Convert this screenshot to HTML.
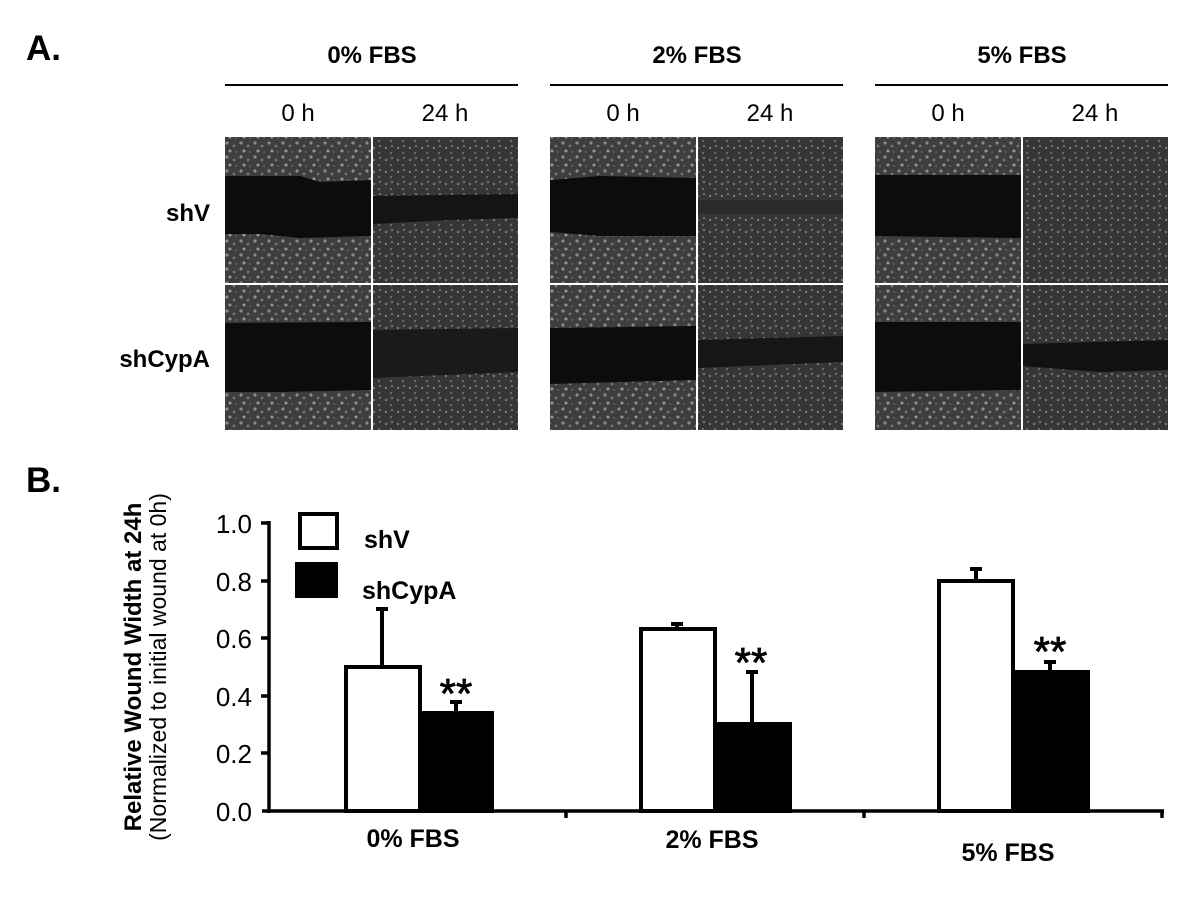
<!DOCTYPE html>
<html><head><meta charset="utf-8"><style>
html,body{margin:0;padding:0;background:#fff;}
svg{display:block;font-family:"Liberation Sans",Arial,sans-serif;}
</style></head><body>
<svg width="1200" height="917" viewBox="0 0 1200 917" xmlns="http://www.w3.org/2000/svg">
<defs>
<pattern id="cells" width="14" height="14" patternUnits="userSpaceOnUse">
<rect width="14" height="14" fill="#3e3e3e"/>
<circle cx="3" cy="3" r="1.6" fill="#8a8a8a"/><circle cx="10" cy="6" r="1.4" fill="#777"/>
<circle cx="6" cy="11" r="1.5" fill="#999"/><circle cx="12" cy="12" r="1" fill="#666"/>
</pattern>
<pattern id="cells2" width="12" height="12" patternUnits="userSpaceOnUse">
<rect width="12" height="12" fill="#363636"/>
<circle cx="2" cy="4" r="1.2" fill="#7a7a7a"/><circle cx="8" cy="2" r="1" fill="#888"/>
<circle cx="7" cy="9" r="1.2" fill="#6a6a6a"/>
</pattern>
</defs>
<text x="26" y="60" font-size="35" font-weight="bold">A.</text>
<text x="26" y="492" font-size="35" font-weight="bold">B.</text>

<g font-size="24">
<text x="372" y="63" text-anchor="middle" font-weight="bold">0% FBS</text>
<text x="697" y="63" text-anchor="middle" font-weight="bold">2% FBS</text>
<text x="1022" y="63" text-anchor="middle" font-weight="bold">5% FBS</text>
<text x="298" y="121" text-anchor="middle">0 h</text><text x="445" y="121" text-anchor="middle">24 h</text>
<text x="623" y="121" text-anchor="middle">0 h</text><text x="770" y="121" text-anchor="middle">24 h</text>
<text x="948" y="121" text-anchor="middle">0 h</text><text x="1095" y="121" text-anchor="middle">24 h</text>
<text x="210" y="221" text-anchor="end" font-weight="bold">shV</text>
<text x="210" y="367" text-anchor="end" font-weight="bold">shCypA</text>
</g>
<g stroke="#000" stroke-width="2">
<line x1="225" y1="85" x2="518" y2="85"/><line x1="550" y1="85" x2="843" y2="85"/><line x1="875" y1="85" x2="1168" y2="85"/>
</g>

<g>
<rect x="225" y="137" width="146" height="146" fill="url(#cells)"/>
<path d="M225 176 L300 176 L320 182 L371 180 L371 236 L300 238 L260 234 L225 234 Z" fill="#0c0c0c"/>
<rect x="373" y="137" width="145" height="146" fill="url(#cells2)"/>
<path d="M373 196 L518 194 L518 218 L450 220 L373 224 Z" fill="#141414"/>
<rect x="225" y="285" width="146" height="145" fill="url(#cells)"/>
<path d="M225 323 L371 322 L371 390 L280 392 L225 392 Z" fill="#0c0c0c"/>
<rect x="373" y="285" width="145" height="145" fill="url(#cells2)"/>
<path d="M373 330 L518 328 L518 372 L373 378 Z" fill="#1a1a1a"/>
<rect x="550" y="137" width="146" height="146" fill="url(#cells)"/>
<path d="M550 180 L600 176 L696 178 L696 236 L600 236 L550 232 Z" fill="#0c0c0c"/>
<rect x="698" y="137" width="145" height="146" fill="url(#cells2)"/>
<rect x="698" y="200" width="145" height="14" fill="#2a2a2a"/>
<rect x="550" y="285" width="146" height="145" fill="url(#cells)"/>
<path d="M550 328 L696 326 L696 380 L550 384 Z" fill="#0c0c0c"/>
<rect x="698" y="285" width="145" height="145" fill="url(#cells2)"/>
<path d="M698 340 L843 336 L843 362 L698 368 Z" fill="#161616"/>
<rect x="875" y="137" width="146" height="146" fill="url(#cells)"/>
<path d="M875 175 L1021 175 L1021 238 L875 236 Z" fill="#0c0c0c"/>
<rect x="1023" y="137" width="145" height="146" fill="url(#cells2)"/>
<rect x="875" y="285" width="146" height="145" fill="url(#cells)"/>
<path d="M875 322 L1021 322 L1021 390 L875 392 Z" fill="#0c0c0c"/>
<rect x="1023" y="285" width="145" height="145" fill="url(#cells2)"/>
<path d="M1023 344 L1168 340 L1168 370 L1100 372 L1023 366 Z" fill="#111"/>
</g>

<g font-size="26">
<text x="252" y="533" text-anchor="end">1.0</text>
<text x="252" y="591" text-anchor="end">0.8</text>
<text x="252" y="648" text-anchor="end">0.6</text>
<text x="252" y="706" text-anchor="end">0.4</text>
<text x="252" y="763" text-anchor="end">0.2</text>
<text x="252" y="821" text-anchor="end">0.0</text>
</g>
<g stroke="#000" stroke-width="3.5">
<line x1="269" y1="521" x2="269" y2="813"/>
<line x1="262" y1="811" x2="1164" y2="811"/>
<line x1="261" y1="523" x2="269" y2="523"/><line x1="261" y1="581" x2="269" y2="581"/>
<line x1="261" y1="638" x2="269" y2="638"/><line x1="261" y1="696" x2="269" y2="696"/>
<line x1="261" y1="753" x2="269" y2="753"/>
<line x1="566" y1="811" x2="566" y2="818"/><line x1="864" y1="811" x2="864" y2="818"/><line x1="1162" y1="811" x2="1162" y2="818"/>
</g>
<g stroke="#000" stroke-width="4">
<line x1="382" y1="667" x2="382" y2="609"/><line x1="376" y1="609" x2="388" y2="609"/>
<rect x="346" y="667" width="74" height="144" fill="#fff"/>
<rect x="420" y="713" width="72" height="98" fill="#000"/>
<line x1="456" y1="713" x2="456" y2="702"/><line x1="450" y1="702" x2="462" y2="702"/>

<line x1="677" y1="628" x2="677" y2="624"/><line x1="671" y1="624" x2="683" y2="624"/>
<rect x="641" y="629" width="74" height="182" fill="#fff"/>
<rect x="715" y="724" width="75" height="87" fill="#000"/>
<line x1="752" y1="724" x2="752" y2="672"/><line x1="746" y1="672" x2="758" y2="672"/>

<line x1="976" y1="581" x2="976" y2="569"/><line x1="970" y1="569" x2="982" y2="569"/>
<rect x="939" y="581" width="74" height="230" fill="#fff"/>
<rect x="1013" y="672" width="75" height="139" fill="#000"/>
<line x1="1050" y1="672" x2="1050" y2="662"/><line x1="1044" y1="662" x2="1056" y2="662"/>
</g>
<g font-size="42" text-anchor="middle" stroke="#000" stroke-width="0.8">
<text x="456" y="708">**</text>
<text x="751" y="677">**</text>
<text x="1050" y="666">**</text>
</g>
<rect x="300" y="514" width="37" height="34" fill="#fff" stroke="#000" stroke-width="4"/>
<rect x="295" y="562" width="43" height="36" fill="#000"/>
<g font-size="25" font-weight="bold">
<text x="364" y="548">shV</text>
<text x="362" y="599">shCypA</text>
<text x="413" y="847" text-anchor="middle">0% FBS</text>
<text x="712" y="848" text-anchor="middle">2% FBS</text>
<text x="1008" y="861" text-anchor="middle">5% FBS</text>
</g>
<text transform="translate(141,667) rotate(-90)" font-size="24" font-weight="bold" text-anchor="middle">Relative Wound Width at 24h</text>
<text transform="translate(166,667) rotate(-90)" font-size="23" text-anchor="middle">(Normalized to initial wound at 0h)</text>
</svg>
</body></html>
